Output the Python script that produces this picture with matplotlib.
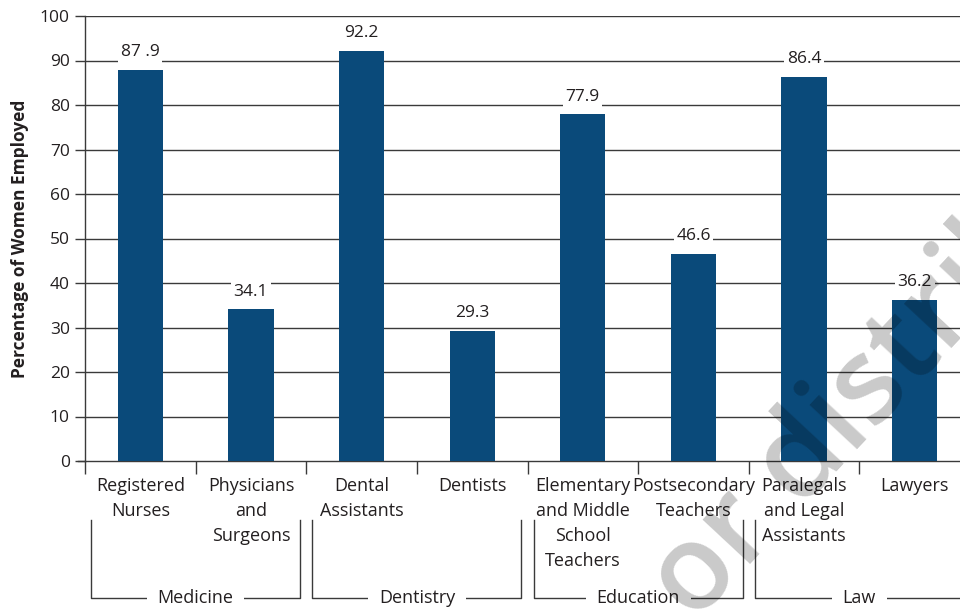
import matplotlib
matplotlib.use("Agg")
import matplotlib.pyplot as plt
import matplotlib.transforms as mtransforms

plt.rcParams['font.family'] = ['Open Sans', 'DejaVu Sans']

categories = ["Registered\nNurses", "Physicians\nand\nSurgeons", "Dental\nAssistants", "Dentists",
              "Elementary\nand Middle\nSchool\nTeachers", "Postsecondary\nTeachers",
              "Paralegals\nand Legal\nAssistants", "Lawyers"]
values = [87.9, 34.1, 92.2, 29.3, 77.9, 46.6, 86.4, 36.2]
value_labels = ["87 .9", "34.1", "92.2", "29.3", "77.9", "46.6", "86.4", "36.2"]
groups = ["Medicine", "Dentistry", "Education", "Law"]
group_spans = [(0, 1), (2, 3), (4, 5), (6, 7)]
yticks = [0, 10, 20, 30, 40, 50, 60, 70, 80, 90, 100]

bar_color = '#0a4a7a'
grid_color = '#3a3a3a'
text_color = '#231f20'

fig = plt.figure(figsize=(9.6, 6.09), dpi=100)
W, H = 960, 609
ax = fig.add_axes([85 / W, (H - 461) / H, 885 / W, 445 / H])

x = list(range(len(values)))
ax.bar(x, values, width=0.41, color=bar_color, zorder=3)
ax.set_xlim(-0.5, 7.5)
ax.set_ylim(0, 100)
ax.set_yticks(yticks)
ax.set_yticklabels([str(t) for t in yticks], fontsize=12.5, color=text_color)
for t in yticks[1:]:
    ax.axhline(t, color=grid_color, lw=1.0, zorder=1)

for s in ['top', 'right']:
    ax.spines[s].set_visible(False)
ax.spines['left'].set_color(grid_color)
ax.spines['bottom'].set_color(grid_color)
ax.spines['left'].set_linewidth(1.0)
ax.spines['bottom'].set_linewidth(1.0)
ax.tick_params(axis='y', length=7, width=1, color=grid_color, pad=4)
ax.set_xticks([i - 0.5 for i in range(len(values))])
ax.set_xticklabels([])
ax.tick_params(axis='x', length=9, width=1, color=grid_color, direction='out')
ax.plot([-0.565, -0.5], [0, 0], color=grid_color, lw=1.0, clip_on=False)

ax.set_ylabel("Percentage of Women Employed", fontsize=12.5, fontweight='bold', color=text_color, labelpad=8)

for xi, v, lab in zip(x, values, value_labels):
    ax.annotate(lab, (xi, v), xytext=(0, 7), textcoords='offset points', ha='center', va='bottom',
                fontsize=12.5, color=text_color, zorder=4,
                bbox=dict(boxstyle='square,pad=0.15', fc='white', ec='none'))

trans = mtransforms.blended_transform_factory(ax.transData, ax.transAxes)
for xi, c in zip(x, categories):
    ax.text(xi, -16 / 445, c, transform=trans, ha='center', va='top', fontsize=13,
            color=text_color, linespacing=1.5)

y_top = -(520 - 461) / 445
y_bot = -(598 - 461) / 445
for g, (a, b) in zip(groups, group_spans):
    left = a - 0.5 + 0.055
    right = b + 0.5 - 0.055
    ax.plot([left, left, right, right], [y_top, y_bot, y_bot, y_top], transform=trans,
            color=grid_color, lw=1.0, clip_on=False)
    ax.text((left + right) / 2, y_bot, g, transform=trans, ha='center', va='center',
            fontsize=13, color=text_color,
            bbox=dict(boxstyle='square,pad=0.6', fc='white', ec='none'))

# watermark
fig.text(852 / W, 1 - 410 / H, "or distrib", fontsize=86, fontweight='semibold', rotation=47,
         color='black', alpha=0.21, ha='center', va='center', zorder=10)

fig.savefig("out.png", dpi=100)
